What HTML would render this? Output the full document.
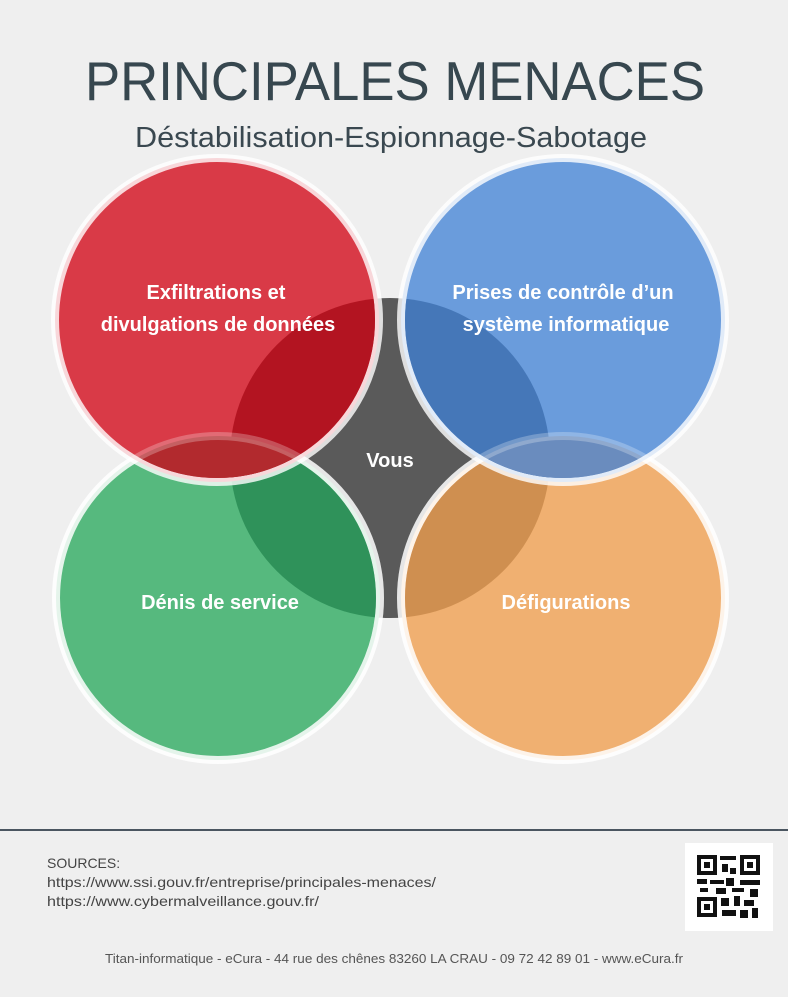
<!DOCTYPE html>
<html><head><meta charset="utf-8"><style>
body{margin:0;width:788px;height:992px;background:#efefef;overflow:hidden;font-family:"Liberation Sans",sans-serif}
</style></head><body>
<svg width="788" height="992" viewBox="0 0 788 992" xmlns="http://www.w3.org/2000/svg">
<defs>
<clipPath id="cd"><circle cx="390" cy="458" r="160"/></clipPath>
<clipPath id="cg"><circle cx="218" cy="598" r="162"/></clipPath>
<clipPath id="co"><circle cx="563" cy="598" r="162"/></clipPath>
</defs>
<rect width="788" height="992" fill="#efefef"/>
<text x="85" y="100" font-size="55" fill="#37474f" font-family="Liberation Sans, sans-serif" textLength="620" lengthAdjust="spacingAndGlyphs">PRINCIPALES MENACES</text>
<text x="135" y="147" font-size="29" fill="#3a4850" font-family="Liberation Sans, sans-serif" textLength="512" lengthAdjust="spacingAndGlyphs">Déstabilisation-Espionnage-Sabotage</text>

<circle cx="390" cy="458" r="160" fill="#5a5a5a"/>
<!-- lower circles -->
<circle cx="218" cy="598" r="162" fill="#56b97e" stroke="#fff" stroke-opacity="0.8" stroke-width="8"/>
<circle cx="563" cy="598" r="162" fill="#f0b071" stroke="#fff" stroke-opacity="0.8" stroke-width="8"/>
<g clip-path="url(#cd)">
<circle cx="218" cy="598" r="158" fill="#2f925a"/>
<circle cx="563" cy="598" r="158" fill="#cf8f50"/>
</g>
<!-- upper circles -->
<circle cx="217" cy="320" r="162" fill="#d93a47" stroke="#fff" stroke-opacity="0.8" stroke-width="8"/>
<circle cx="563" cy="320" r="162" fill="#6a9cdc" stroke="#fff" stroke-opacity="0.8" stroke-width="8"/>
<g clip-path="url(#cd)">
<circle cx="217" cy="320" r="158" fill="#b31421"/>
<circle cx="563" cy="320" r="158" fill="#4577b8"/>
</g>
<g clip-path="url(#cg)"><circle cx="217" cy="320" r="158" fill="#b22a2e"/></g>
<g clip-path="url(#co)"><circle cx="563" cy="320" r="158" fill="#6a8cbe"/></g>
<circle cx="218" cy="598" r="162" fill="none" stroke="#fff" stroke-opacity="0.25" stroke-width="8"/>
<circle cx="563" cy="598" r="162" fill="none" stroke="#fff" stroke-opacity="0.25" stroke-width="8"/>

<g fill="#fff" font-size="20" font-weight="bold" text-anchor="middle" font-family="Liberation Sans, sans-serif">
<text x="216" y="299">Exfiltrations et</text>
<text x="218" y="331">divulgations de données</text>
<text x="563" y="299">Prises de contrôle d’un</text>
<text x="566" y="331">système informatique</text>
<text x="390" y="467">Vous</text>
<text x="220" y="609">Dénis de service</text>
<text x="566" y="609">Défigurations</text>
</g>

<line x1="0" y1="830" x2="788" y2="830" stroke="#4a5560" stroke-width="2"/>
<g font-size="14" fill="#444" font-family="Liberation Sans, sans-serif">
<text x="47" y="868">SOURCES:</text>
<text x="47" y="887" textLength="389" lengthAdjust="spacingAndGlyphs">https://www.ssi.gouv.fr/entreprise/principales-menaces/</text>
<text x="47" y="906" textLength="272" lengthAdjust="spacingAndGlyphs">https://www.cybermalveillance.gouv.fr/</text>
</g>
<rect x="685" y="843" width="88" height="88" fill="#fff"/>
<g fill="#111">
<rect x="697" y="855" width="20" height="20"/><rect x="701" y="859" width="12" height="12" fill="#fff"/><rect x="704" y="862" width="6" height="6"/>
<rect x="740" y="855" width="20" height="20"/><rect x="744" y="859" width="12" height="12" fill="#fff"/><rect x="747" y="862" width="6" height="6"/>
<rect x="697" y="897" width="20" height="20"/><rect x="701" y="901" width="12" height="12" fill="#fff"/><rect x="704" y="904" width="6" height="6"/>
<rect x="720" y="856" width="16" height="4"/><rect x="722" y="864" width="6" height="8"/><rect x="730" y="868" width="6" height="6"/>
<rect x="697" y="879" width="10" height="5"/><rect x="710" y="880" width="14" height="4"/><rect x="726" y="878" width="8" height="8"/><rect x="740" y="880" width="20" height="5"/>
<rect x="700" y="888" width="8" height="4"/><rect x="716" y="888" width="10" height="6"/><rect x="732" y="888" width="12" height="4"/><rect x="750" y="889" width="8" height="8"/>
<rect x="721" y="898" width="8" height="8"/><rect x="734" y="896" width="6" height="10"/><rect x="744" y="900" width="10" height="6"/>
<rect x="722" y="910" width="14" height="6"/><rect x="740" y="910" width="8" height="8"/><rect x="752" y="908" width="6" height="10"/>
</g>
<text x="105" y="963" font-size="13" fill="#555" font-family="Liberation Sans, sans-serif" textLength="578" lengthAdjust="spacingAndGlyphs">Titan-informatique - eCura - 44 rue des chênes 83260 LA CRAU - 09 72 42 89 01 - www.eCura.fr</text>
</svg>
</body></html>
